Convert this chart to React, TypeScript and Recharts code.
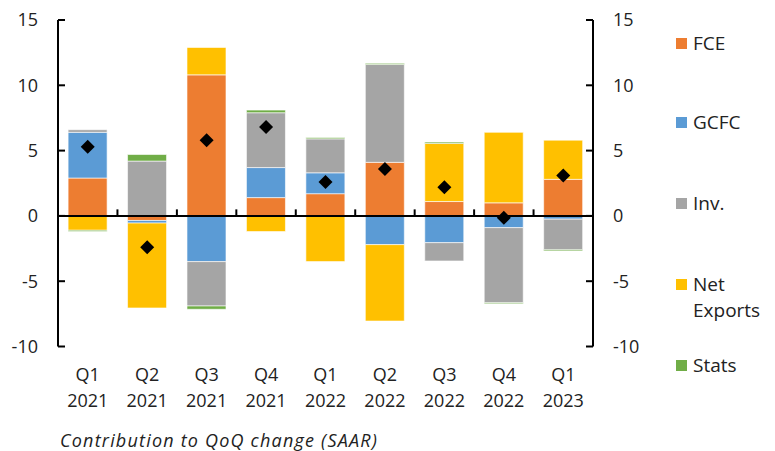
import React from 'react';
import { ComposedChart, Bar, Line, XAxis, YAxis, ReferenceLine } from 'recharts';

const quarters = ['Q1', 'Q2', 'Q3', 'Q4', 'Q1', 'Q2', 'Q3', 'Q4', 'Q1'];
const years = ['2021', '2021', '2021', '2021', '2022', '2022', '2022', '2022', '2023'];
const fce = [2.9, -0.35, 10.8, 1.4, 1.7, 4.1, 1.1, 1.0, 2.8];
const gcfc = [3.5, -0.2, -3.5, 2.3, 1.6, -2.2, -2.05, -0.9, -0.25];
const inv = [0.2, 4.2, -3.4, 4.2, 2.6, 7.5, -1.4, -5.75, -2.35];
const netExports = [-1.1, -6.5, 2.1, -1.2, -3.5, -5.85, 4.45, 5.4, 3.0];
const stats = [-0.1, 0.5, -0.25, 0.2, 0.1, 0.08, 0.1, -0.08, -0.08];
const total = [5.3, -2.4, 5.8, 6.8, 2.6, 3.6, 2.2, -0.15, 3.1];
const yTicks = [-10, -5, 0, 5, 10, 15];

const seriesDefs = [
  { key: 'fce', name: 'FCE', color: '#ED7D31', values: fce },
  { key: 'gcfc', name: 'GCFC', color: '#5B9BD5', values: gcfc },
  { key: 'inv', name: 'Inv.', color: '#A5A5A5', values: inv },
  { key: 'nx', name: 'Net Exports', color: '#FFC000', values: netExports },
  { key: 'stats', name: 'Stats', color: '#70AD47', values: stats },
];

const labels = quarters.map((q, i) => q + ' ' + years[i]);

const data = labels.map((label, i) => {
  const row: any = { label, total: total[i] };
  seriesDefs.forEach((s) => {
    row[s.key] = s.values[i];
  });
  return row;
});

const FONT = "'Open Sans', sans-serif";
const TEXT = '#222';

const XTick = (props: any) => {
  const { x, y, payload } = props;
  const parts = String(payload.value).split(' ');
  return (
    <text x={x} y={y} textAnchor="middle" fill={TEXT} fontSize={18} fontFamily={FONT}>
      <tspan x={x} dy={34}>{parts[0]}</tspan>
      <tspan x={x} dy={26.5}>{parts[1]}</tspan>
    </text>
  );
};

const Diamond = (props: any) => {
  const { cx, cy } = props;
  if (cx == null || cy == null) return null;
  const r = 7;
  return (
    <polygon
      points={`${cx},${cy - r} ${cx + r},${cy} ${cx},${cy + r} ${cx - r},${cy}`}
      fill="#000"
    />
  );
};

// inward tick marks on both value axes, drawn at the ends of a y reference line
const InwardTicks = (props: any) => {
  const { x1, x2, y1 } = props;
  if (x1 == null || x2 == null || y1 == null) return null;
  const a = Math.min(x1, x2);
  const b = Math.max(x1, x2);
  return (
    <g>
      <line x1={a} x2={a + 7} y1={y1} y2={y1} stroke="#000" strokeWidth={2} />
      <line x1={b - 7} x2={b} y1={y1} y2={y1} stroke="#000" strokeWidth={2} />
    </g>
  );
};

const legendRows = [
  { idx: 0, top: 30 },
  { idx: 1, top: 109 },
  { idx: 2, top: 190 },
  { idx: 3, top: 271 },
  { idx: 4, top: 352 },
];

export default function App() {
  return (
    <div
      style={{
        position: 'absolute',
        left: 0,
        top: 0,
        width: 775,
        height: 451,
        background: '#fff',
        fontFamily: FONT,
        overflow: 'hidden',
      }}
    >
      <ComposedChart
        width={775}
        height={451}
        data={data}
        stackOffset="sign"
        barCategoryGap="17%"
        margin={{ top: 20, right: 0, left: 0, bottom: 44.5 }}
      >
        <XAxis
          dataKey="label"
          height={60}
          axisLine={false}
          tickLine={false}
          tickSize={0}
          tickMargin={0}
          interval={0}
          tick={<XTick />}
        />
        <YAxis
          yAxisId="left"
          orientation="left"
          domain={[-10, 15]}
          ticks={yTicks}
          width={58}
          interval={0}
          allowDataOverflow
          axisLine={{ stroke: '#000', strokeWidth: 2 }}
          tickLine={false}
          tickSize={-7}
          tickMargin={27}
          tick={{ fill: TEXT, fontSize: 18, fontFamily: FONT }}
        />
        <YAxis
          yAxisId="right"
          orientation="right"
          domain={[-10, 15]}
          ticks={yTicks}
          width={182}
          interval={0}
          allowDataOverflow
          axisLine={{ stroke: '#000', strokeWidth: 2 }}
          tickLine={false}
          tickSize={-7}
          tickMargin={27}
          tick={{ fill: TEXT, fontSize: 18, fontFamily: FONT, textAnchor: 'start' }}
        />
        {seriesDefs.map((s) => (
          <Bar
            key={s.key}
            yAxisId="left"
            dataKey={s.key}
            name={s.name}
            stackId="a"
            fill={s.color}
            stroke="rgba(255,255,255,0.6)"
            strokeWidth={1}
            isAnimationActive={false}
          />
        ))}
        {yTicks.map((t) => (
          <ReferenceLine key={'y' + t} yAxisId="left" y={t} shape={<InwardTicks />} />
        ))}
        <ReferenceLine yAxisId="left" y={0} stroke="#000" strokeWidth={2} />
        {labels.slice(1).map((l) => (
          <ReferenceLine
            key={'t' + l}
            yAxisId="left"
            position="start"
            segment={[
              { x: l, y: 0 },
              { x: l, y: 0.5 },
            ]}
            stroke="#000"
            strokeWidth={2}
          />
        ))}
        <Line
          yAxisId="right"
          dataKey="total"
          stroke="none"
          dot={false}
          activeDot={false}
          isAnimationActive={false}
          legendType="none"
        />
        <Line
          yAxisId="left"
          dataKey="total"
          name="Total"
          stroke="none"
          dot={<Diamond />}
          activeDot={false}
          isAnimationActive={false}
          legendType="none"
        />
      </ComposedChart>
      {legendRows.map((r) => {
        const s = seriesDefs[r.idx];
        const lines = s.name === 'Net Exports' ? ['Net', 'Exports'] : [s.name];
        return (
          <div
            key={s.key}
            style={{
              position: 'absolute',
              left: 676,
              top: r.top,
              display: 'flex',
              alignItems: 'flex-start',
              fontSize: 19,
              lineHeight: '26px',
              color: TEXT,
            }}
          >
            <div style={{ width: 11, height: 11, background: s.color, marginTop: 8, marginRight: 6 }} />
            <div>
              {lines.map((t) => (
                <div key={t}>{t}</div>
              ))}
            </div>
          </div>
        );
      })}
      <div
        style={{
          position: 'absolute',
          left: 60,
          top: 428,
          fontSize: 18,
          lineHeight: '24px',
          fontStyle: 'italic',
          color: TEXT,
          letterSpacing: 1.2,
          whiteSpace: 'nowrap',
        }}
      >
        Contribution to QoQ change (SAAR)
      </div>
    </div>
  );
}
